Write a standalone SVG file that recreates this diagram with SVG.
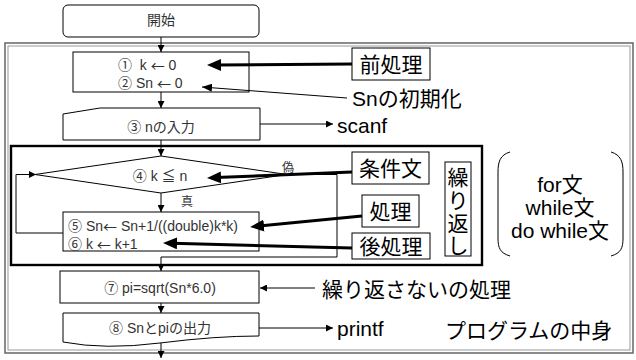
<svg xmlns="http://www.w3.org/2000/svg" width="636" height="360" viewBox="0 0 636 360">
<defs>
<marker id="a" markerUnits="userSpaceOnUse" markerWidth="8" markerHeight="7" refX="7" refY="3.5" orient="auto"><path d="M0,0 L7,3.5 L0,7 z" fill="#000"/></marker>
<marker id="big" markerUnits="userSpaceOnUse" markerWidth="14" markerHeight="12" refX="5" refY="6" orient="auto"><path d="M0,0 L14,6 L0,12 z" fill="#000"/></marker>
<marker id="thin" markerUnits="userSpaceOnUse" markerWidth="10" markerHeight="8" refX="10" refY="4" orient="auto"><path d="M0,0 L10,4 L0,8 z" fill="#000"/></marker>
</defs>
<style>
.n{fill:#fff;stroke:#000;stroke-width:1}
.t{font-family:"Liberation Sans","Noto Sans CJK JP",sans-serif;font-size:14px;fill:#333;dominant-baseline:central}
.m{text-anchor:middle}
.ar{font-family:"Noto Sans CJK JP",sans-serif}
.l{font-family:"Liberation Sans","Noto Sans CJK JP",sans-serif;font-size:21px;fill:#000;dominant-baseline:central}
.c{fill:none;stroke:#000;stroke-width:1}
.k{fill:none;stroke:#000;stroke-width:3}
</style>
<rect width="636" height="360" fill="#fff"/>
<g id="frame-program">
<rect x="5" y="43" width="628" height="310" fill="none" stroke="#666" stroke-width="1.5"/>
<rect x="8" y="46" width="622" height="304" fill="none" stroke="#999" stroke-width="1"/>
</g>
<g id="frame-loop">
<rect x="11" y="146" width="471" height="119" fill="none" stroke="#000" stroke-width="2.4"/>
</g>
<g id="start">
<rect class="n" x="63" y="5" width="196" height="32" rx="5"/>
<text class="t m" x="161" y="20">開始</text>
</g>
<g id="init">
<rect class="n" x="73" y="52" width="176" height="40"/>
<text class="t" x="118" y="65" xml:space="preserve">①  k <tspan class="ar">←</tspan> 0</text>
<text class="t" x="118" y="83">② Sn <tspan class="ar">←</tspan> 0</text>
</g>
<g id="input">
<path class="n" d="M63,114 L100,108 H260 V140 H63 Z"/>
<text class="t m" x="161" y="127">③ nの入力</text>
</g>
<g id="cond">
<polygon class="n" points="161,156 287,174.5 161,193 35,174.5"/>
<text class="t m" x="160" y="176">④ k ≦ n</text>
<text class="t m" x="288" y="168" style="font-size:12px">偽</text>
<text class="t m" x="187" y="202" style="font-size:12px">真</text>
</g>
<g id="body">
<rect class="n" x="63" y="212" width="196" height="39"/>
<text class="t" x="68" y="225.5">⑤ Sn<tspan class="ar">←</tspan> Sn+1/((double)k*k)</text>
<text class="t" x="68" y="243.5">⑥ k <tspan class="ar">←</tspan> k+1</text>
</g>
<g id="calc">
<rect class="n" x="60" y="271" width="199" height="32"/>
<text class="t m" x="160" y="288">⑦ pi=sqrt(Sn*6.0)</text>
</g>
<g id="output">
<path class="n" d="M63,313 H259 V336 Q215,336 160,343 Q105,350 63,342 Z"/>
<text class="t m" x="160" y="328">⑧ Snとpiの出力</text>
</g>
<g id="label-pre">
<rect class="n" x="352" y="48" width="78" height="32"/>
<text class="l m" x="391" y="64">前処理</text>
</g>
<g id="label-init">
<text class="l" x="352" y="98">Snの初期化</text>
</g>
<g id="label-scanf">
<text class="l" x="337" y="125">scanf</text>
</g>
<g id="label-cond">
<rect class="n" x="352" y="152" width="77" height="32"/>
<text class="l m" x="390.5" y="168">条件文</text>
</g>
<g id="label-proc">
<rect class="n" x="362" y="195" width="57" height="32"/>
<text class="l m" x="390.5" y="211">処理</text>
</g>
<g id="label-post">
<rect class="n" x="352" y="233" width="78" height="26"/>
<text class="l m" x="391" y="246">後処理</text>
</g>
<g id="label-repeat">
<rect class="n" x="445" y="162" width="26" height="94"/>
<text class="l m" x="458" y="177">繰</text>
<text class="l m" x="458" y="200">り</text>
<text class="l m" x="458" y="223">返</text>
<text class="l m" x="458" y="245">し</text>
</g>
<g id="label-loops">
<path class="c" d="M510,152 C500,155 498,162 498,172 L498,238 C498,248 500,253 510,256"/>
<path class="c" d="M611,152 C621,155 623,162 623,172 L623,238 C623,248 621,253 611,256"/>
<text class="l m" x="560" y="184">for文</text>
<text class="l m" x="560" y="207">while文</text>
<text class="l m" x="560" y="230">do while文</text>
</g>
<g id="label-noloop">
<text class="l" x="322" y="289">繰り返さないの処理</text>
</g>
<g id="label-printf">
<text class="l" x="337" y="328">printf</text>
</g>
<g id="label-body">
<text class="l" x="445" y="330">プログラムの中身</text>
</g>
<g id="connectors">
<path class="c" d="M161,37 V52" marker-end="url(#a)"/>
<path class="c" d="M161,92 V108" marker-end="url(#a)"/>
<path class="c" d="M161,140 V156" marker-end="url(#a)"/>
<path class="c" d="M161,193 V212" marker-end="url(#a)"/>
<path class="c" d="M63,233 H16 V174.5 H36" marker-end="url(#a)"/>
<path class="c" d="M287,174.5 H337 V257 H161 V271" marker-end="url(#a)"/>
<path class="c" d="M161,303 V313" marker-end="url(#a)"/>
<path class="c" d="M161,343 V358" marker-end="url(#a)"/>
<path class="k" d="M352,64 L216,65" marker-end="url(#big)"/>
<path class="c" d="M347,98 L202,87" marker-end="url(#thin)"/>
<path class="c" d="M260,124 H333" marker-end="url(#a)"/>
<path class="k" d="M352,172 L216,177.6" marker-end="url(#big)"/>
<path class="k" d="M362,216 L259,226.1" marker-end="url(#big)"/>
<path class="k" d="M352,248 L172,243.2" marker-end="url(#big)"/>
<path class="c" d="M315,288 H260" marker-end="url(#a)"/>
<path class="c" d="M259,328 H333" marker-end="url(#a)"/>
</g>
</svg>
